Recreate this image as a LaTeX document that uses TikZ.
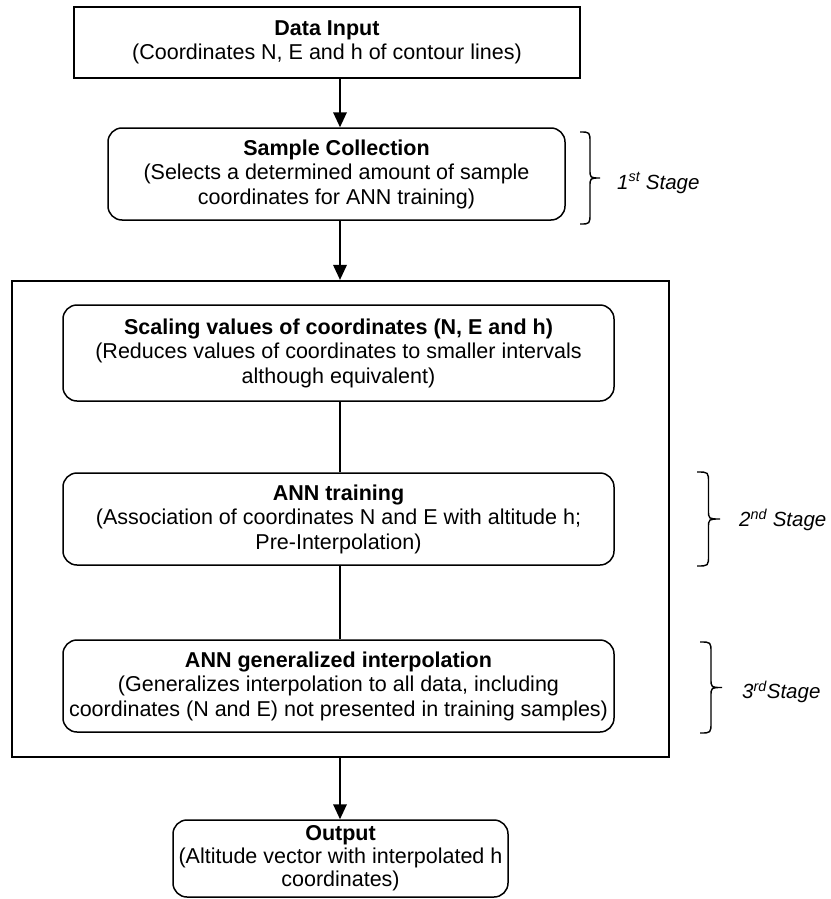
\documentclass[tikz,border=0pt]{standalone}
\usepackage{fontspec}
\setmainfont{Liberation Sans}
\usetikzlibrary{arrows.meta}
\newcommand\stagebrace[4]{% left x, width, top y, bottom y
  \pgfmathsetmacro\bxa{#1}\pgfmathsetmacro\bxm{#1+#2/2}\pgfmathsetmacro\bxb{#1+#2}%
  \pgfmathsetmacro\bmid{(#3+#4)/2}%
  \draw[bracestyle] (\bxa,#3) .. controls (\bxm,#3) .. (\bxm,#3+11) -- (\bxm,\bmid-9)
    .. controls (\bxm,\bmid) .. (\bxb,\bmid) .. controls (\bxm,\bmid) .. (\bxm,\bmid+9)
    -- (\bxm,#4-11) .. controls (\bxm,#4) .. (\bxa,#4);}
\begin{document}
\begin{tikzpicture}[x=1pt,y=-1pt,
  every node/.style={font=\fontsize{21.5}{24.5}\selectfont, align=center, inner sep=0pt},
  sqbox/.style={draw, line width=1.5pt},
  rbox/.style={draw, line width=1.5pt, rounded corners=14pt},
  bigframe/.style={draw, line width=2.2pt},
  arr/.style={line width=1.8pt, -{Triangle[length=15pt,width=13.5pt]}},
  link/.style={line width=1.2pt},
  bracestyle/.style={line width=1.4pt},
  stagelbl/.style={anchor=west, font=\fontsize{20.5}{24}\selectfont\itshape}]
\useasboundingbox (0,0) rectangle (830,899);
\fill[white] (0,0) rectangle (830,899);

\node[sqbox, minimum width=506pt, minimum height=71pt] (data) at (327,42.5)
  {\textbf{Data Input}\\(Coordinates N, E and h of contour lines)};
\node[rbox, minimum width=457pt, minimum height=92pt] (sample) at (336.5,174)
  {\textbf{Sample Collection}\\(Selects a determined amount of sample\\coordinates for ANN training)};
\node[bigframe, minimum width=657pt, minimum height=476pt] (frame) at (340.5,519) {};
\node[rbox, minimum width=551pt, minimum height=96pt] (scaling) at (338.5,353)
  {\textbf{Scaling values of coordinates (N, E and h)}\\(Reduces values of coordinates to smaller intervals\\although equivalent)};
\node[rbox, minimum width=551pt, minimum height=92pt] (training) at (338.5,519)
  {\textbf{ANN training}\\(Association of coordinates N and E with altitude h;\\Pre-Interpolation)};
\node[rbox, minimum width=551pt, minimum height=92pt] (general) at (338.5,686)
  {\textbf{ANN generalized interpolation}\\(Generalizes interpolation to all data, including\\coordinates (N and E) not presented in training samples)};
\node[rbox, minimum width=335pt, minimum height=77pt, font=\fontsize{21.5}{23}\selectfont] (output) at (340.5,858.5)
  {\textbf{Output}\\(Altitude vector with interpolated h\\coordinates)};

\coordinate (ax) at (340,0);
\draw[arr] (data.south -| ax) -- (sample.north -| ax);
\draw[arr] (sample.south -| ax) -- (frame.north -| ax);
\draw[arr] (frame.south -| ax) -- (output.north -| ax);
\draw[link] (scaling.south -| ax) -- (training.north -| ax);
\draw[link] (training.south -| ax) -- (general.north -| ax);

\stagebrace{580}{20}{132}{224}
\stagebrace{697}{23}{472}{566}
\stagebrace{700}{22}{642}{733}
\node[stagelbl] (s1) at (617,183) {1\textsuperscript{st} Stage};
\node[stagelbl] (s2) at (739,520) {2\textsuperscript{nd} Stage};
\node[stagelbl] (s3) at (742,692) {3\textsuperscript{rd}Stage};
\end{tikzpicture}
\end{document}
